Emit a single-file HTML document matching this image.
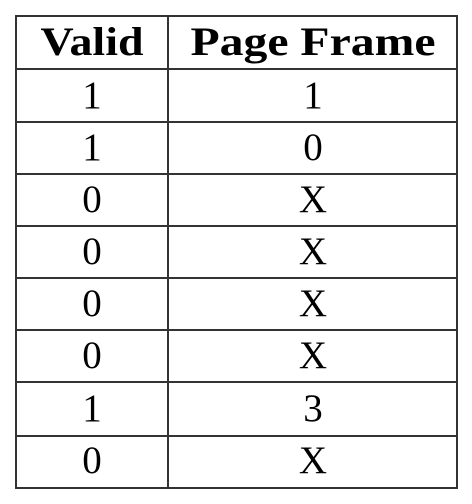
<!DOCTYPE html>
<html><head><style>
html,body{margin:0;padding:0;background:#fff;width:472px;height:504px;overflow:hidden}
svg text{font-family:"Liberation Serif",serif;fill:#000}
</style></head><body>
<svg width="472" height="504" xmlns="http://www.w3.org/2000/svg">
<g stroke="#333" stroke-width="2" fill="none">
<rect x="16" y="16" width="441" height="472"/>
<line x1="168" y1="16" x2="168" y2="488"/>
<line x1="16" y1="69" x2="457" y2="69"/>
<line x1="16" y1="122" x2="457" y2="122"/>
<line x1="16" y1="174" x2="457" y2="174"/>
<line x1="16" y1="226" x2="457" y2="226"/>
<line x1="16" y1="278" x2="457" y2="278"/>
<line x1="16" y1="330" x2="457" y2="330"/>
<line x1="16" y1="382" x2="457" y2="382"/>
<line x1="16" y1="436" x2="457" y2="436"/>
</g>
<g text-anchor="middle" font-size="40" font-weight="bold">
<text x="92" y="55" textLength="103" lengthAdjust="spacingAndGlyphs">Valid</text>
<text x="313" y="55" textLength="245" lengthAdjust="spacingAndGlyphs">Page Frame</text>
</g>
<g text-anchor="middle" font-size="39">
<text x="92" y="108">1</text><text x="313" y="108">1</text>
<text x="92" y="160">1</text><text x="313" y="160">0</text>
<text x="92" y="212">0</text><text x="313" y="212">X</text>
<text x="92" y="264">0</text><text x="313" y="264">X</text>
<text x="92" y="316">0</text><text x="313" y="316">X</text>
<text x="92" y="368">0</text><text x="313" y="368">X</text>
<text x="92" y="421">1</text><text x="313" y="421">3</text>
<text x="92" y="473">0</text><text x="313" y="473">X</text>
</g>
</svg>
</body></html>
